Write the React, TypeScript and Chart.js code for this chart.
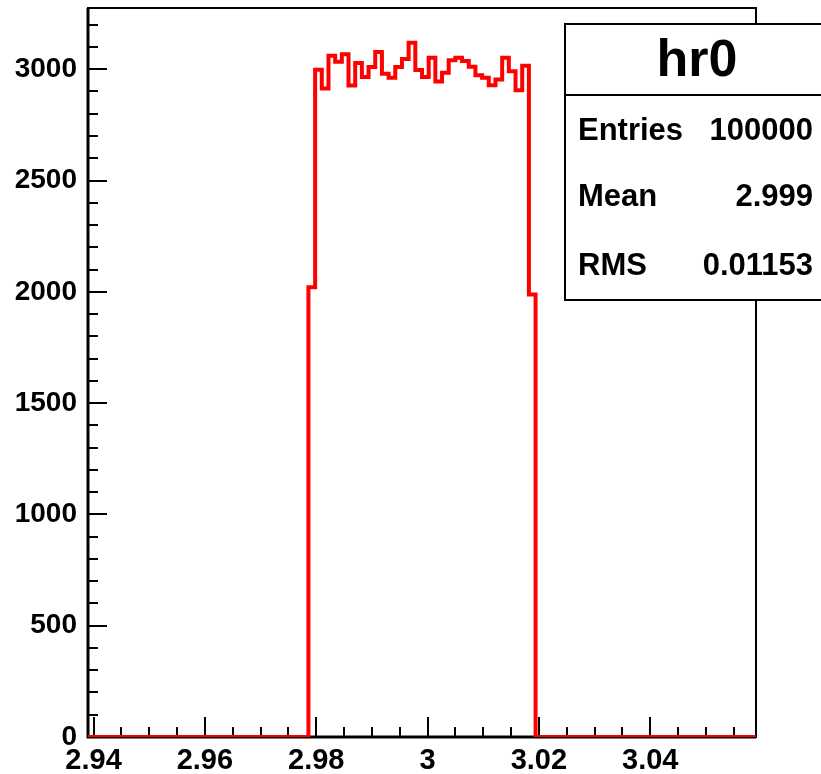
import React, { useEffect, useRef } from "react";
import { Chart, registerables } from "chart.js";

Chart.register(...registerables);

// ---- data ----
const histTitle = "hr0";
const xMin = 2.939;
const xMax = 3.059;
const nBins = 100;
const firstFilledBin = 33;
const filledCounts = [
  2020, 2998, 2913, 3061, 3034, 3067, 2927, 3028, 2965, 3010, 3077, 2980,
  2962, 3010, 3046, 3119, 2997, 2965, 3051, 2945, 2984, 3040, 3051, 3037,
  3011, 2973, 2962, 2928, 2954, 3051, 2991, 2905, 3016, 1988,
];
const yMax = 3275;
const xTickValues = [2.94, 2.96, 2.98, 3.0, 3.02, 3.04];
const xTickLabels = ["2.94", "2.96", "2.98", "3", "3.02", "3.04"];
const yTickValues = [0, 500, 1000, 1500, 2000, 2500, 3000];
const yTickLabels = ["0", "500", "1000", "1500", "2000", "2500", "3000"];
const statsLabels = ["Entries", "Mean", "RMS"];
const statsValues = ["100000", "2.999", "0.01153"];

const FONT = '"Liberation Sans", Arial, Helvetica, sans-serif';

function buildPoints() {
  const w = (xMax - xMin) / nBins;
  const pts: { x: number; y: number }[] = [];
  for (let i = 0; i < nBins; i++) {
    const k = i - firstFilledBin;
    const c = k >= 0 && k < filledCounts.length ? filledCounts[k] : 0;
    pts.push({ x: xMin + i * w, y: c });
  }
  pts.push({ x: xMax, y: pts[pts.length - 1].y });
  return pts;
}

const rootPlugin = {
  id: "rootFrame",
  beforeDatasetsDraw(chart: any) {
    const { ctx, chartArea: a, scales } = chart;
    const xs = scales.x;
    const ys = scales.y;
    ctx.save();
    ctx.strokeStyle = "#000";
    ctx.lineWidth = 2;
    for (let k = 0; k * 100 <= yMax; k++) {
      const py = Math.round(ys.getPixelForValue(k * 100));
      const len = k % 5 === 0 ? 19 : 10;
      ctx.beginPath();
      ctx.moveTo(a.left, py);
      ctx.lineTo(a.left + len, py);
      ctx.stroke();
    }
    for (let k = 0; ; k++) {
      const v = 2.94 + k * 0.005;
      if (v > xMax) break;
      const px = Math.round(xs.getPixelForValue(v));
      const len = k % 4 === 0 ? 20 : 10;
      ctx.beginPath();
      ctx.moveTo(px, a.bottom);
      ctx.lineTo(px, a.bottom - len);
      ctx.stroke();
    }
    ctx.lineWidth = 2;
    ctx.strokeRect(a.left, a.top, a.right - a.left, a.bottom - a.top);
    ctx.lineWidth = 3;
    ctx.beginPath();
    ctx.moveTo(a.left, a.top);
    ctx.lineTo(a.left, a.bottom);
    ctx.lineTo(a.right, a.bottom);
    ctx.stroke();
    ctx.restore();
  },
  afterDraw(chart: any) {
    const { ctx } = chart;
    ctx.save();
    const L = 565, T = 24, R = 823, B = 300, D = 95;
    ctx.fillStyle = "#fff";
    ctx.fillRect(L, T, R - L, B - T);
    ctx.strokeStyle = "#000";
    ctx.lineWidth = 2;
    ctx.strokeRect(L, T, R - L, B - T);
    ctx.beginPath();
    ctx.moveTo(L, D);
    ctx.lineTo(R, D);
    ctx.stroke();
    ctx.fillStyle = "#000";
    ctx.textBaseline = "middle";
    ctx.textAlign = "center";
    ctx.font = `bold 52px ${FONT}`;
    ctx.fillText(histTitle, 697, 62);
    ctx.font = `bold 31px ${FONT}`;
    const rowsY = [131, 197, 266];
    statsLabels.forEach((lab, i) => {
      ctx.textAlign = "left";
      ctx.fillText(lab, 578, rowsY[i]);
      ctx.textAlign = "right";
      ctx.fillText(statsValues[i], 813, rowsY[i]);
    });
    ctx.restore();
  },
};

export default function App() {
  const ref = useRef<HTMLCanvasElement | null>(null);
  useEffect(() => {
    document.body.style.margin = "0";
    const canvas = ref.current!;
    const chart = new Chart(canvas, {
      type: "line",
      data: {
        datasets: [
          {
            data: buildPoints(),
            borderColor: "#ff0000",
            borderWidth: 4,
            stepped: "before",
            pointRadius: 0,
            fill: false,
            tension: 0,
          },
        ],
      },
      options: {
        animation: false,
        responsive: false,
        devicePixelRatio: 1,
        events: [],
        layout: { padding: { top: 8, right: 65, left: 0, bottom: 0 } },
        plugins: { legend: { display: false }, tooltip: { enabled: false }, title: { display: false } },
        scales: {
          x: {
            type: "linear",
            min: xMin,
            max: xMax,
            afterBuildTicks: (s: any) => {
              s.ticks = xTickValues.map((v) => ({ value: v }));
            },
            afterFit: (s: any) => {
              s.height = 37;
              s.paddingLeft = 0;
              s.paddingRight = 0;
            },
            grid: { display: false, drawTicks: false },
            border: { display: false },
            ticks: {
              autoSkip: false,
              maxRotation: 0,
              padding: 7,
              color: "#000",
              font: { family: FONT, weight: "bold", size: 29 },
              callback: (_v: any, i: number) => xTickLabels[i],
            },
          },
          y: {
            type: "linear",
            min: 0,
            max: yMax,
            afterBuildTicks: (s: any) => {
              s.ticks = yTickValues.map((v) => ({ value: v }));
            },
            afterFit: (s: any) => {
              s.width = 88;
              s.paddingTop = 0;
              s.paddingBottom = 0;
            },
            grid: { display: false, drawTicks: false },
            border: { display: false },
            ticks: {
              autoSkip: false,
              padding: 11,
              color: "#000",
              font: { family: FONT, weight: "bold", size: 28 },
              callback: (_v: any, i: number) => yTickLabels[i],
            },
          },
        },
      },
      plugins: [rootPlugin],
    });
    return () => chart.destroy();
  }, []);
  return (
    <div style={{ position: "fixed", left: 0, top: 0, width: 821, height: 774, background: "#fff" }}>
      <canvas ref={ref} width={821} height={774} style={{ display: "block", width: 821, height: 774 }} />
    </div>
  );
}
